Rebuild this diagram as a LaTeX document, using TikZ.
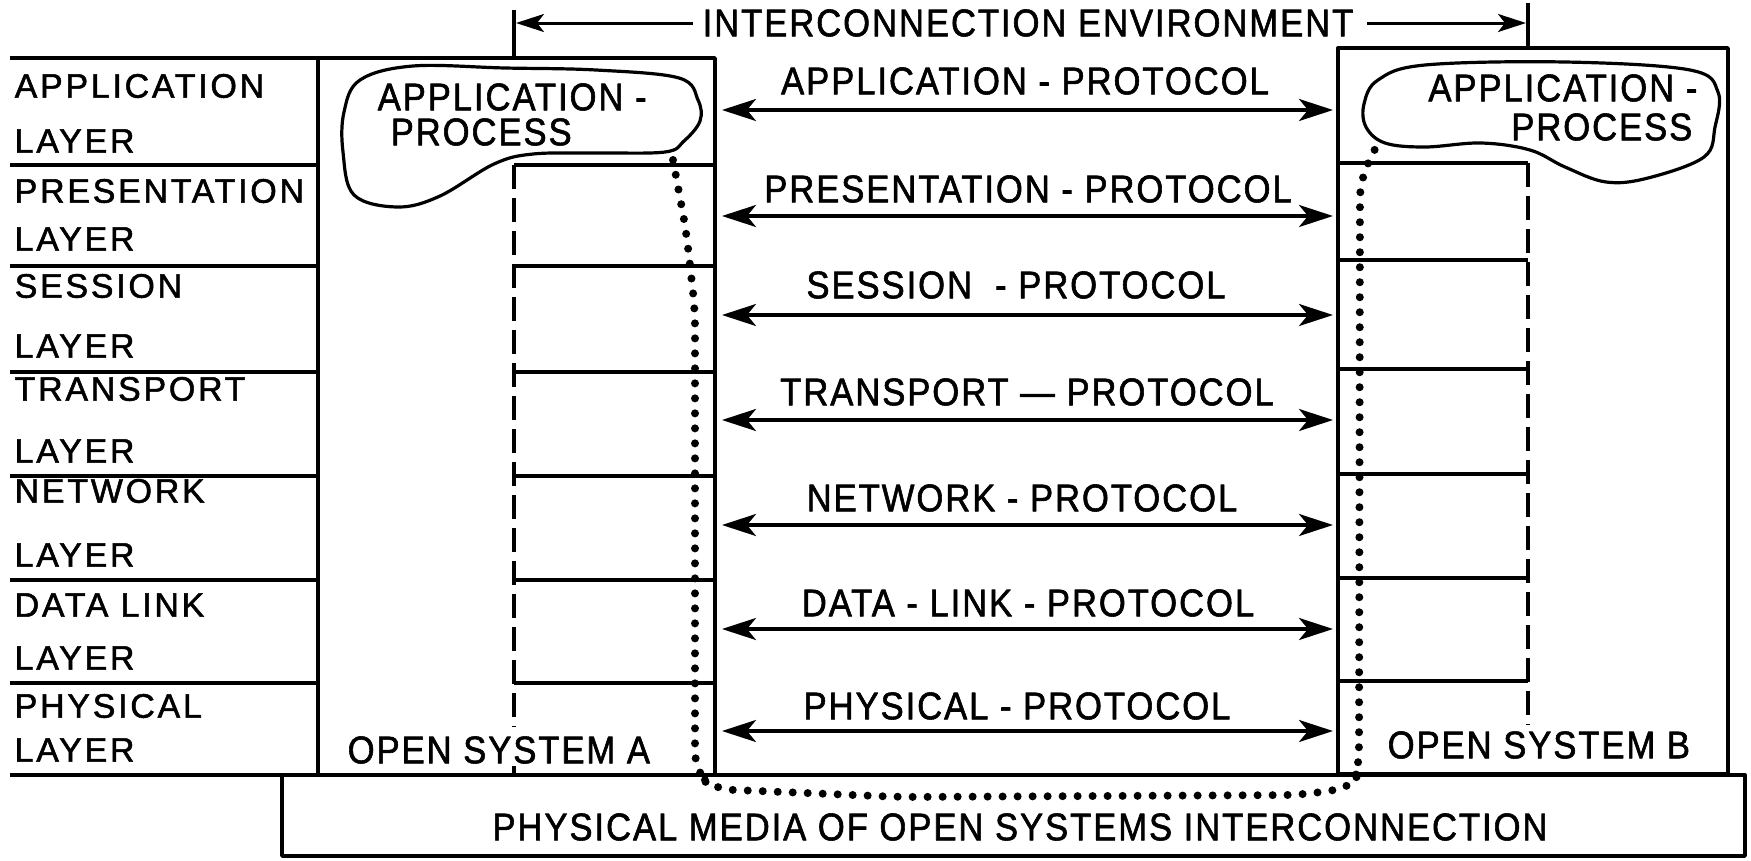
\documentclass[tikz,border=0pt]{standalone}
\usepackage{fontspec}
\usetikzlibrary{arrows.meta}
\newfontfamily\condfont[FakeStretch=0.9,LetterSpace=5,FakeBold=1.5]{Liberation Sans}
\newfontfamily\widefont[LetterSpace=8,FakeBold=1.5]{Liberation Sans}
\begin{document}
\begin{tikzpicture}[x=1pt,y=-1pt,line width=3.4pt,line join=round,
  cond/.style={inner sep=0pt,font=\condfont\fontsize{38.5}{42}\selectfont},
  wide/.style={inner sep=0pt,anchor=west,font=\widefont\fontsize{34}{38}\selectfont},
  dashline/.style={line width=3.6pt,dash pattern=on 24pt off 9pt},
  dotline/.style={line width=8pt,line cap=round,dash pattern=on 0pt off 15pt},
  proto/.style={line width=3.4pt,{Stealth[length=34pt,width=22pt,inset=9pt]}-{Stealth[length=34pt,width=22pt,inset=9pt]}},
  envarr/.style={line width=3pt,-{Stealth[length=28pt,width=18pt,inset=7pt]}},
  blob/.style={line width=3.2pt}]
\useasboundingbox (0,0) rectangle (1751,860);

% ---------- interconnection environment ----------
\coordinate (tickAtop) at (514,10);
\coordinate (tickAbot) at (514,58);
\coordinate (tickBtop) at (1528,3);
\coordinate (tickBbot) at (1528,48);
\draw (tickAtop) -- (tickAbot);
\draw (tickBtop) -- (tickBbot);
\node[cond] (env) at (1028,23) {INTERCONNECTION ENVIRONMENT};
\coordinate (envL) at (516,23);
\coordinate (envR) at (1526,23);
\draw[envarr] ([xshift=-8pt]env.west) -- (envL);
\draw[envarr] ([xshift=12pt]env.east) -- (envR);

% ---------- layer table ----------
\foreach \y in {58,165,266,372,476,580,683,775}{
  \draw (10,\y) -- (318,\y);
}
\node[wide] (l1a) at (13,86)  {APPLICATION};
\node[wide] (l1b) at (13,141) {LAYER};
\node[wide] (l2a) at (13,191) {PRESENTATION};
\node[wide] (l2b) at (13,239) {LAYER};
\node[wide] (l3a) at (13,286) {SESSION};
\node[wide] (l3b) at (13,346) {LAYER};
\node[wide] (l4a) at (13,389) {TRANSPORT};
\node[wide] (l4b) at (13,451) {LAYER};
\node[wide] (l5a) at (13,491) {NETWORK};
\node[wide] (l5b) at (13,555) {LAYER};
\node[wide] (l6a) at (13,605) {DATA LINK};
\node[wide] (l6b) at (13,658) {LAYER};
\node[wide] (l7a) at (13,706) {PHYSICAL};
\node[wide] (l7b) at (13,750) {LAYER};

% ---------- open system A ----------
\draw (318,58) rectangle (715,775);
\foreach \y in {165,266,372,476,580,683}{
  \draw (514,\y) -- (715,\y);
}
\draw[dashline] (514,165) -- (514,727);
\draw (514,766) -- (514,775);
\draw[blob] plot[smooth cycle,tension=0.6] coordinates {
  (360,80) (413,66) (505,68) (596,70) (679,78) (698,100) (700,121) (684,141)
  (665,152) (596,153) (533,154) (494,164) (440,196) (398,207) (354,195)
  (343,152) (344,112)};
\node[cond,anchor=west] (apA1) at (376,97) {APPLICATION -};
\node[cond,anchor=west] (apA2) at (389,132) {PROCESS};
\node[cond,anchor=west] (osA) at (346,750) {OPEN SYSTEM A};

% ---------- open system B ----------
\draw (1338,48) rectangle (1728,774);
\foreach \y in {163,260,369,474,578,681}{
  \draw (1338,\y) -- (1528,\y);
}
\draw[dashline] (1528,163) -- (1528,725);
\draw[blob] plot[smooth cycle,tension=0.6] coordinates {
  (1366,127) (1364,104) (1378,80) (1425,65) (1565,62) (1690,70) (1718,92)
  (1715,127) (1704,157) (1648,178) (1606,182) (1565,167) (1530,150)
  (1481,143) (1425,147) (1385,143)};
\node[cond,anchor=east] (apB1) at (1699,88) {APPLICATION -};
\node[cond,anchor=east] (apB2) at (1694,127) {PROCESS};
\node[cond,anchor=west] (osB) at (1386,745) {OPEN SYSTEM B};

% ---------- physical media ----------
\draw (282,775) rectangle (1745,856);
\node[cond] (media) at (1020,827) {PHYSICAL MEDIA OF OPEN SYSTEMS INTERCONNECTION};

% ---------- dotted path ----------
\draw[dotline,rounded corners=18pt] (673,160) -- (686,230) -- (695,310) -- (695,770)
  -- (712,789) -- (900,797) -- (1300,795) -- (1355,787) -- (1359,760)
  -- (1360,180) -- (1377,145);

% ---------- protocols ----------
\foreach \i/\y/\ty/\tx/\t in {
  1/110/81/1025/{APPLICATION - PROTOCOL},
  2/216/189/1028/{PRESENTATION - PROTOCOL},
  3/315/285/1016/{SESSION~~- PROTOCOL},
  4/420/392/1027/{TRANSPORT — PROTOCOL},
  5/525/498/1022/{NETWORK - PROTOCOL},
  6/629/603/1028/{DATA - LINK - PROTOCOL},
  7/731/706/1017/{PHYSICAL - PROTOCOL}}{
  \coordinate (pL\i) at (722,\y);
  \coordinate (pR\i) at (1333,\y);
  \draw[proto] (pL\i) -- (pR\i);
  \node[cond] (pt\i) at (\tx,\ty) {\t};
}
\end{tikzpicture}
\end{document}
